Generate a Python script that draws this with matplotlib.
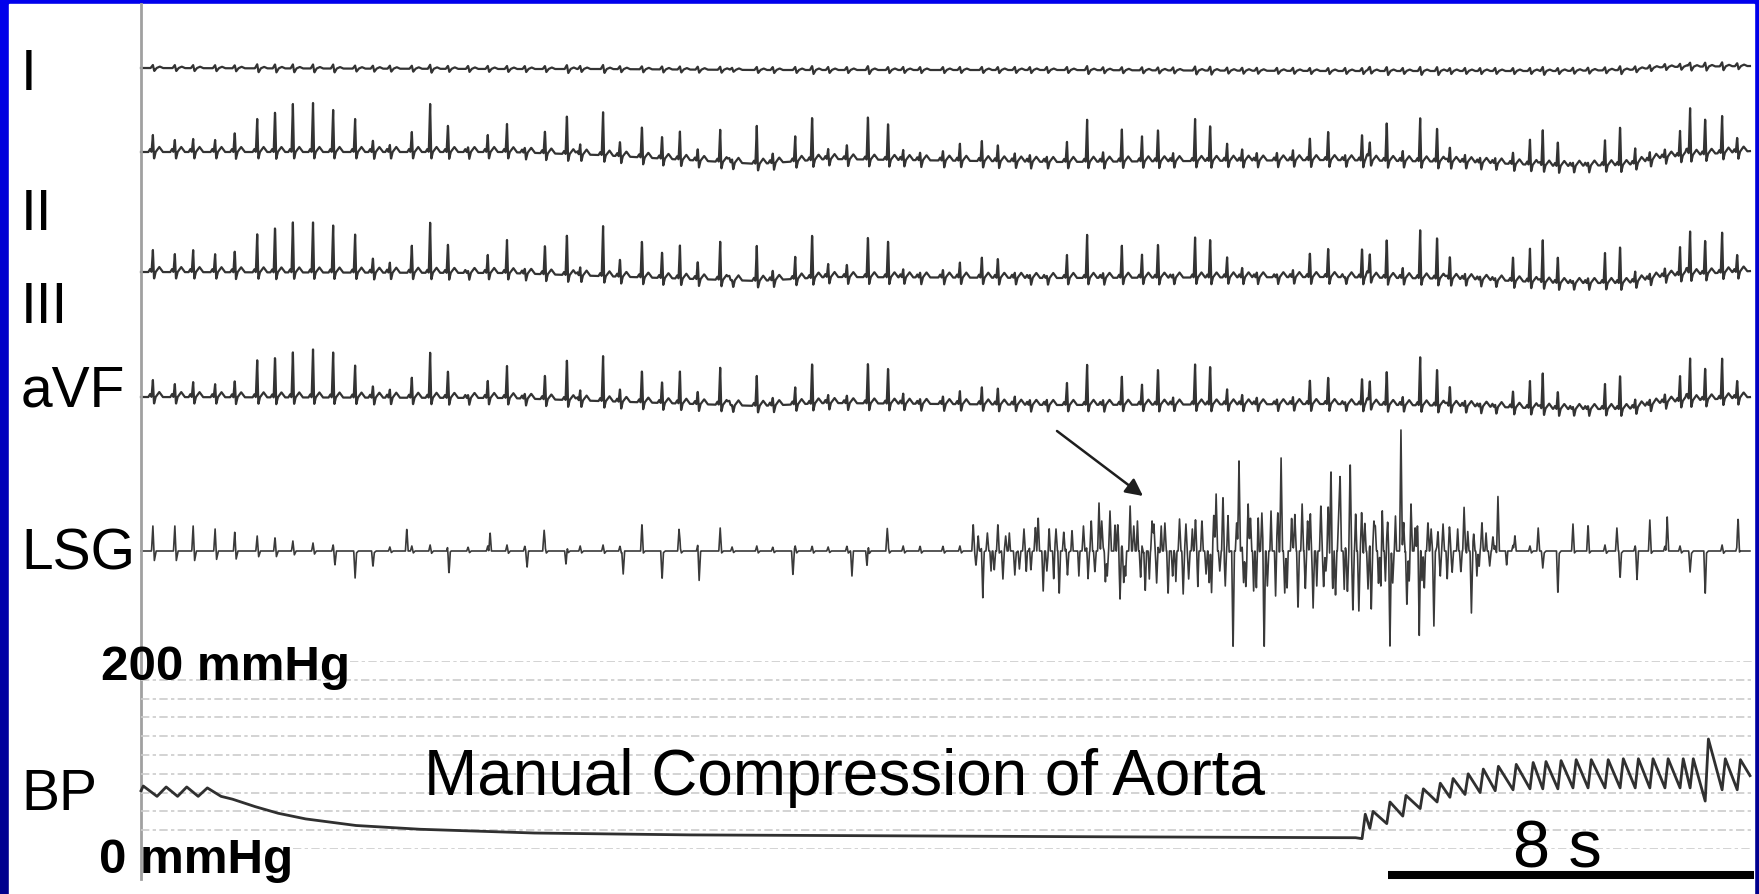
import numpy as np
import matplotlib.pyplot as plt
from matplotlib.patches import Rectangle

plt.rcParams['font.family'] = ['Liberation Sans', 'DejaVu Sans']

# ---- data ----
# time of each heart beat (s)
beat_t = [0.26, 0.74, 1.14, 1.62, 2.05, 2.54, 2.93, 3.32, 3.76, 4.20, 4.68, 5.07, 5.44, 5.92, 6.32, 6.71, 7.15, 7.58, 8.00, 8.39,
          8.83, 9.31, 9.60, 10.10, 10.47, 10.95, 11.39, 11.78, 12.17, 12.66, 12.92, 13.46, 13.81, 14.30, 14.67, 15.02, 15.43, 15.89, 16.33, 16.66, 17.03,
          17.53, 17.90, 18.38, 18.73, 19.10, 19.43, 19.80, 20.24, 20.68, 21.03, 21.44, 21.88, 22.23, 22.56, 23.04, 23.37, 23.74, 24.07, 24.39, 24.83, 25.18, 25.55, 25.95, 26.32,
          26.69, 26.86, 27.23, 27.58, 27.96, 28.33, 28.61, 28.94, 29.27, 29.60, 29.99, 30.36, 30.64, 30.97, 31.30, 31.63, 32.00, 32.33, 32.66, 32.98, 33.31, 33.64, 33.86, 34.19, 34.56, 34.89]

# R wave height per beat (a.u.)
lead_I_amp = [3, 3, 3, 3, 3, 4, 4, 4, 4, 4, 3, 3, 3, 3, 4, 3, 3, 3, 3, 3,
              3, 4, 3, 4, 3, 3, 3, 3, 3, 3, 2, 3, 3, 3, 4, 3, 3, 4, 3, 3, 3,
              3, 3, 3, 3, 3, 3, 3, 3, 4, 3, 3, 3, 3, 3, 4, 4, 3, 3, 3, 3, 3, 3, 3, 3,
              3, 3, 4, 3, 4, 4, 3, 3, 3, 3, 3, 3, 4, 3, 3, 3, 3, 4, 3, 3, 3, 3, 4, 4, 4, 3]
lead_II_amp = [17, 12, 13, 12, 20, 33, 42, 48, 49, 42, 33, 12, 7, 20, 48, 28, 5, 17, 28, 5,
               23, 40, 10, 43, 15, 32, 23, 28, 12, 32, 3, 38, 10, 25, 45, 10, 15, 45, 38, 10, 8,
               10, 17, 20, 17, 8, 7, 5, 20, 42, 10, 32, 25, 33, 8, 42, 37, 17, 12, 8, 8, 10, 23, 30, 5,
               27, 15, 40, 10, 43, 35, 15, 7, 5, 5, 12, 25, 35, 25, 3, 3, 25, 40, 15, 8, 8, 25, 47, 37, 37, 15]
lead_III_amp = [22, 18, 22, 18, 22, 38, 47, 50, 50, 47, 38, 15, 10, 27, 50, 30, 2, 18, 33, 5,
                30, 42, 8, 50, 18, 38, 27, 33, 18, 38, 0, 35, 10, 22, 45, 13, 13, 42, 38, 8, 5,
                8, 15, 20, 20, 5, 3, 2, 23, 43, 5, 32, 23, 35, 3, 40, 40, 20, 10, 5, 3, 7, 25, 30, 0,
                30, 20, 40, 10, 48, 43, 23, 5, 3, 2, 25, 33, 42, 27, 2, 5, 30, 38, 10, 5, 8, 28, 43, 35, 40, 18]
lead_aVF_amp = [17, 13, 15, 13, 17, 37, 42, 45, 48, 45, 32, 12, 8, 20, 45, 28, 3, 17, 32, 5,
                25, 42, 10, 45, 13, 33, 22, 32, 13, 37, 0, 30, 8, 17, 42, 8, 8, 42, 37, 10, 5,
                8, 13, 17, 17, 8, 5, 5, 22, 40, 5, 28, 20, 37, 7, 40, 40, 15, 10, 7, 5, 7, 25, 28, 2,
                27, 20, 35, 8, 48, 38, 20, 5, 3, 2, 17, 27, 35, 18, 2, 3, 25, 35, 8, 5, 8, 25, 42, 33, 40, 18]
lsg_beat_amp = [25, 25, 25, 22, 20, 15, 14, 10, 8, 6, 5, 4, 4, 5, 6, 5, 4, 5, 6, 5,
                5, 4, 5, 6, 5, 5, 4, 5, 6, 5, 4, 5, 4, 5, 5, 4, 5, 6, 5, 5, 5,
                5, 5, 4, 5, 4, 4, 5, 5, 5, 4, 5, 5, 4, 5, 5, 4, 5, 4, 5, 5, 5, 4, 5, 5,
                5, 5, 5, 6, 5, 5, 6, 5, 6, 5, 6, 5, 5, 6, 5, 5, 6, 5, 5, 6, 5, 5, 6, 5, 6, 5]

# slow baseline wander (a.u., up is positive)
drift_t = [0, 8, 10, 13.5, 15, 20, 26, 29, 31, 32.5, 33.3, 35.2]
drift_I = [1, 0, 0, -1, -1, -1, -2, -2, -2, -1, 2, 3]
drift_II = [0, 0, -3, -12, -7, -10, -8, -10, -14, -13, -5, 1]
drift_III = [0, -1, -4, -9, -5, -6, -5, -7, -11, -11, -4, 1]
drift_aVF = [0, -1, -4, -9, -6, -8, -7, -9, -12, -12, -5, 0]

# left stellate ganglion nerve discharges (s, a.u.)
lsg_t = [4.24, 4.68, 5.07, 5.81, 6.73, 7.63, 8.44, 8.81, 9.29, 10.54, 10.95, 11.39, 11.76, 12.20, 12.66, 14.25, 15.54, 15.87, 16.31,
         18.19, 18.40, 18.73, 18.84, 19.10, 19.61, 19.72, 20.07, 20.17, 20.70, 20.77, 20.94, 21.18, 21.40, 21.62, 21.95, 22.14, 22.45, 22.78, 22.84,
         23.19, 23.28, 23.50, 23.58, 23.65, 23.87, 24.00, 24.10, 24.20, 24.55, 24.92, 25.29, 25.38, 25.62, 25.79, 25.90, 26.01, 26.11, 26.21, 26.43,
         26.49, 26.62, 26.75, 26.89, 27.13, 27.30, 27.54, 27.67, 27.76, 27.94, 28.13, 28.26, 28.46, 28.66, 28.92, 29.08, 29.31, 29.48, 29.66, 30.03,
         30.54, 30.64, 30.97, 31.30, 31.63, 32.26, 32.33, 32.70, 32.98, 33.36, 33.86, 34.19, 34.91]
lsg_v = [-12, -32, -20, 23, -23, 20, -15, 20, -15, -23, 23, -33, 20, -27, 18, -25, -25, -17, 22,
         28, -47, 23, -28, -28, 35, -40, -45, 20, -28, 32, 48, 40, -48, 45, -42, 27, -45, -43, 27,
         32, -23, 57, -20, 57, -102, 90, -30, 47, -102, 93, -60, 47, -57, 48, -20, 85, -47, 77, 92,
         -63, -60, 30, -60, 43, -95, 121, -57, 47, -86, 30, -75, 27, -20, 42, -62, 32, -15, 55, 18,
         23, -22, -50, 22, 22, 23, -33, -27, 25, 35, -27, -50, 33]
lsg_minor_t = [18.30, 18.58, 18.98, 19.35, 19.85, 19.95, 20.35, 20.50, 21.08, 21.29, 21.52, 21.78, 22.04, 22.30, 22.62, 22.98,
               23.10, 23.40, 23.76, 24.32, 24.42, 24.70, 24.80, 25.05, 25.15, 25.50, 25.70, 26.30, 26.55, 26.98, 27.05, 27.20,
               27.42, 27.85, 28.05, 28.35, 28.55, 28.78, 29.00, 29.20, 29.40, 29.85]
lsg_minor_v = [15, -20, 18, -22, 25, -30, 22, -25, -30, 28, -25, 30, -28, 25, -30, 22,
               -35, -40, 35, -40, 35, 40, -45, -40, 35, 30, -35, -40, 40, 25, -35, -30,
               35, 25, -40, 20, -30, 22, 20, -25, 18, -15]
lsg_fine_t = [18.25, 18.50, 18.65, 18.90, 19.20, 19.30, 19.45, 19.55, 19.80, 20.00, 20.25, 20.60, 20.85, 21.00, 21.12,
              21.35, 21.48, 21.70, 21.85, 22.10, 22.20, 22.38, 22.55, 22.70, 22.90, 23.05, 23.35, 23.45, 23.70, 23.95,
              24.15, 24.25, 24.38, 24.50, 24.62, 24.85, 25.00, 25.22, 25.45, 25.56, 25.85, 25.95, 26.05, 26.18, 26.37,
              26.68, 26.82, 26.95, 27.10, 27.25, 27.36, 27.60, 27.72, 27.90, 28.00, 28.20, 28.40, 28.60, 28.85, 29.13,
              29.25, 29.55]
lsg_fine_v = [-15, 18, -20, 15, -18, 22, -20, 25, -25, 22, -28, 25, -22, 30, -25,
              28, -30, 25, -28, 30, -32, 28, -30, 32, -28, 30, -35, 38, -35, 30,
              -38, 35, -40, 38, -35, 40, -42, 38, -40, 35, -38, 42, -40, 38, -42,
              35, -38, 32, -35, 30, -32, 28, -30, 25, -28, 22, -25, 20, -22, 18,
              -18, 15]

# blood pressure (mmHg): slow trace during compression, then pulses after release
bp_pre_t = [0.0, 0.05, 0.35, 0.55, 0.80, 1.00, 1.25, 1.45, 1.75, 2.0, 2.5, 3.0, 3.6, 4.7, 6.1, 8.6, 12.0, 16.5, 21.0, 26.55]
bp_pre_v = [62, 67, 56, 66, 56, 66, 56, 65, 56, 53, 45, 38, 32, 25, 21, 17, 15, 14, 13, 12]
release_t = 26.6
bp_sys = [37, 40, 50, 57, 64, 70, 75, 80, 85, 88, 90, 92, 93, 94, 95, 95, 95, 96, 96, 96, 96, 96, 96, 117, 96, 95]
bp_dia = [11, 22, 27, 35, 43, 50, 55, 58, 60, 62, 63, 64, 64, 64, 65, 65, 65, 65, 65, 65, 65, 65, 65, 51, 63, 63]
bp_grid = list(range(0, 201, 20))

# ---- layout ----
W, H = 1759, 895
X0 = 141            # pixel column of t = 0
PX_PER_S = 45.75    # 8 s scale bar = 366 px


def t_of(px):
    return (px - X0) / PX_PER_S


def fy(row):
    return 1 - row / H


fig = plt.figure(figsize=(W / 100, H / 100), dpi=100)

# blue slide background with white picture area
bg = fig.add_axes([0, 0, 1, 1])
grad = np.zeros((256, 1, 3))
grad[:, 0, 2] = np.linspace(0.93, 0.55, 256)
bg.imshow(grad, aspect='auto', extent=[0, 1, 0, 1])
bg.add_patch(Rectangle((9 / W, 0), (1754 - 9) / W, (H - 5) / H, color='white', transform=bg.transAxes))
bg.set_xlim(0, 1)
bg.set_ylim(0, 1)
bg.axis('off')

ax = fig.add_axes([0, 0, 1, 1])
ax.set_xlim(t_of(0), t_of(W))
ax.set_ylim(H, 0)
ax.axis('off')

t = np.arange(0, t_of(1750), 0.004)


def ecg(amps, drift):
    sig = np.interp(t, drift_t, drift)
    dt = np.array([-0.10, -0.06, -0.03, 0, 0.025, 0.06, 0.14, 0.22])
    for tb, a in zip(beat_t, amps):
        sig += np.interp(t, tb + dt, [0, 3, 0, a, -7, 0, 5, 0], left=0, right=0)
    return sig


def lead_i(amps, drift):
    sig = np.interp(t, drift_t, drift)
    dt = np.array([-0.05, 0, 0.03, 0.08, 0.15, 0.22])
    for tb, a in zip(beat_t, amps):
        sig += np.interp(t, tb + dt, [0, a, -a, 0, 1.5, 0], left=0, right=0)
    return sig


trace_kw = dict(color='#333333', lw=1.6)
ax.plot(t, 70 - lead_i(lead_I_amp, drift_I), **trace_kw)
ax.plot(t, 153 - ecg(lead_II_amp, drift_II), **trace_kw)
ax.plot(t, 273 - ecg(lead_III_amp, drift_III), **trace_kw)
ax.plot(t, 398 - ecg(lead_aVF_amp, drift_aVF), **trace_kw)

# LSG nerve activity
lsg = np.zeros_like(t)
for tb, a in zip(beat_t, lsg_beat_amp):
    lsg += np.interp(t, tb + np.array([-0.03, 0, 0.03, 0.07]), [0, a, -0.4 * a, 0], left=0, right=0)
for te, v in zip(lsg_t, lsg_v):
    lsg += np.interp(t, [te - 0.03, te, te + 0.03], [0, v, 0], left=0, right=0)
for te, v in zip(lsg_minor_t, lsg_minor_v):
    lsg += np.interp(t, [te - 0.025, te, te + 0.025], [0, v, 0], left=0, right=0)
for te, v in zip(lsg_fine_t, lsg_fine_v):
    lsg += np.interp(t, [te - 0.03, te, te + 0.03], [0, v, 0], left=0, right=0)
ax.plot(t, 552 - lsg, color='#3a3a3a', lw=1.2)

# arrow pointing at the burst
ax.annotate('', xy=(t_of(1143), 497), xytext=(t_of(1057), 432),
            arrowprops=dict(arrowstyle='-|>', color='#1e1e1e', lw=1.8,
                            mutation_scale=26, shrinkA=0, shrinkB=0))

# blood pressure channel
bp_ax = fig.add_axes([0, 1 - 850 / H, 1, 188 / H])
bp_ax.set_xlim(t_of(0), t_of(W))
bp_ax.set_ylim(0, 200)
bp_ax.axis('off')
for g in bp_grid:
    start = 0
    if g == 200:
        start = t_of(350)
    elif g == 0:
        start = t_of(293)
    bp_ax.plot([start, t_of(1752)], [g, g], color='#cccccc', lw=1.2,
               linestyle=(0, (5, 2, 2, 2)), zorder=1)

post = [i for i, tb in enumerate(beat_t) if tb > release_t]
bpt = list(bp_pre_t)
bpv = list(bp_pre_v)
for i, s, d in zip(post, bp_sys, bp_dia):
    bpt += [beat_t[i], beat_t[i] + 0.07]
    bpv += [d, s]
bpt.append(t_of(1750))
bpv.append(78)
bp_ax.plot(bpt, bpv, color='#303030', lw=2.0, zorder=3)

# left axis line
ax.plot([0, 0], [5, 880], color='#a0a0a0', lw=2, zorder=4)

# scale bar: 8 s
ax.plot([t_of(1388), t_of(1388) + 8], [876, 876], color='black', lw=5.8, solid_capstyle='butt')

# texts
lead_labels = ['I', 'II', 'III', 'aVF', 'LSG', 'BP']
label_rows = [90, 230, 323, 407, 570, 810]
for lab, row in zip(lead_labels, label_rows):
    fig.text(21 / W, fy(row), lab, fontsize=41, va='baseline', ha='left', color='black')

fig.text(101 / W, fy(680), '200 mmHg', fontsize=35.5, fontweight='bold', va='baseline', ha='left')
fig.text(99 / W, fy(873), '0 mmHg', fontsize=35.5, fontweight='bold', va='baseline', ha='left')
fig.text(424 / W, fy(795), 'Manual Compression of Aorta', fontsize=46, va='baseline', ha='left')
fig.text(1513 / W, fy(868), '8 s', fontsize=48, va='baseline', ha='left')

fig.savefig('out.png', dpi=100)
